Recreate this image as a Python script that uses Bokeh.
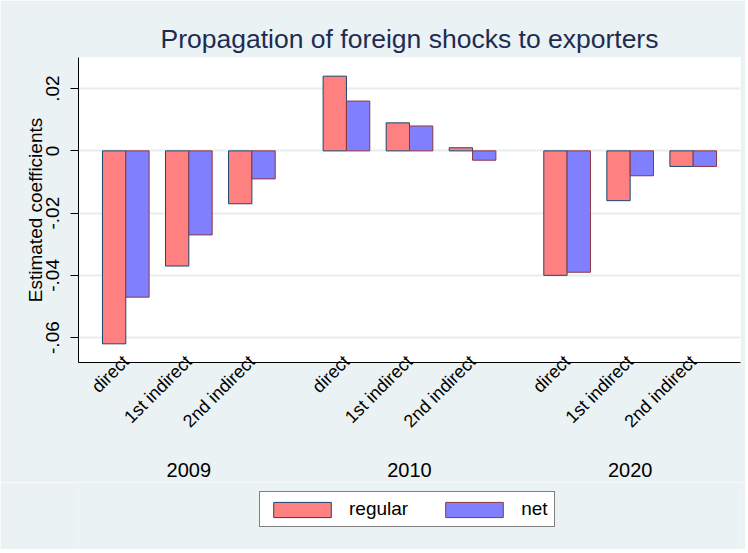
from math import pi
from bokeh.plotting import figure
from bokeh.layouts import column
from bokeh.models import (FactorRange, Range1d, FixedTicker, Legend, LegendItem,
                          ColumnDataSource, CategoricalAxis)
from bokeh.transform import dodge
from bokeh.embed import file_html
from bokeh.resources import INLINE

# ---- data ----
years = ["2009", "2010", "2020"]
shocks = ["direct", "1st indirect", "2nd indirect"]
regular = [-0.062, -0.037, -0.017, 0.024, 0.009, 0.001, -0.040, -0.016, -0.005]
net = [-0.047, -0.027, -0.009, 0.016, 0.008, -0.003, -0.039, -0.008, -0.005]
series_names = ["regular", "net"]
series_fill = ["#ff8080", "#8080ff"]
series_line = ["#1a476f", "#90353b"]
y_ticks = [-0.06, -0.04, -0.02, 0.0, 0.02]
y_tick_labels = ["-.06", "-.04", "-.02", "0", ".02"]

factors = [(y, s) for y in years for s in shocks]
source = ColumnDataSource(dict(x=factors, regular=regular, net=net))

FONT = "Liberation Sans"
BG = "#eaf2f3"

x_range = FactorRange(*factors, factor_padding=0, group_padding=0.5,
                      range_padding=0.25, range_padding_units="absolute")
p = figure(frame_width=662, frame_height=305, x_range=x_range, y_range=Range1d(-0.068, 0.030),
           output_backend="svg", toolbar_location=None,
           min_border_left=78, min_border_right=5, min_border_top=57, min_border_bottom=120)
p.background_fill_color = "white"
p.border_fill_color = BG
p.outline_line_color = None

# year axis on a range whose factor centres coincide with each group's middle bar pair
p.extra_x_ranges = {"years": FactorRange(*years, factor_padding=2.5,
                                         range_padding=1.25, range_padding_units="absolute")}

bw = 0.37
r1 = p.vbar(x=dodge("x", -bw / 2, range=p.x_range), top="regular", bottom=0, width=bw,
            source=source, fill_color=series_fill[0], line_color=series_line[0], line_width=1)
r2 = p.vbar(x=dodge("x", bw / 2, range=p.x_range), top="net", bottom=0, width=bw,
            source=source, fill_color=series_fill[1], line_color=series_line[1], line_width=1)

# title
p.title.text = "Propagation of foreign shocks to exporters"
p.title.align = "center"
p.title.text_font = FONT
p.title.text_font_size = "26.5px"
p.title.text_font_style = "normal"
p.title.text_color = "#1e2c52"
p.title.standoff = 7

# x axis (categories)
xa = p.xaxis[0]
xa.major_label_orientation = pi / 4
xa.major_tick_line_color = None
xa.minor_tick_line_color = None
xa.major_label_text_font = FONT
xa.major_label_text_font_size = "18px"
xa.major_label_text_color = "black"
xa.major_label_standoff = -10
xa.group_text_color = None
xa.separator_line_color = None
xa.axis_line_color = "black"
p.xgrid.grid_line_color = None

# year axis
year_axis = CategoricalAxis(x_range_name="years", axis_line_color=None,
                            major_tick_line_color=None, minor_tick_line_color=None,
                            major_label_text_font=FONT, major_label_text_font_size="20px",
                            major_label_text_color="black", major_label_standoff=15)
p.add_layout(year_axis, "below")

# y axis
ticker = FixedTicker(ticks=y_ticks)
ya = p.yaxis[0]
ya.ticker = ticker
ya.major_label_overrides = dict(zip(y_ticks, y_tick_labels))
ya.major_label_orientation = "vertical"
ya.major_tick_out = 8
ya.major_tick_in = 0
ya.minor_tick_line_color = None
ya.major_tick_line_color = "black"
ya.axis_line_color = "black"
ya.major_label_text_font = FONT
ya.major_label_text_font_size = "19px"
ya.major_label_text_color = "black"
ya.major_label_standoff = 11
ya.axis_label = "Estimated coefficients"
ya.axis_label_text_font = FONT
ya.axis_label_text_font_size = "19px"
ya.axis_label_text_font_style = "normal"
ya.axis_label_text_color = "black"
ya.axis_label_standoff = -2
p.ygrid.ticker = ticker
p.ygrid.grid_line_color = "#e6eef0"
p.ygrid.grid_line_width = 2

# legend strip below the chart (same background); its swatch renderers sit outside the view
lf = figure(width=745, height=67, x_range=Range1d(0, 1), y_range=Range1d(0, 1),
            output_backend="svg", toolbar_location=None, min_border=0)
lf.background_fill_color = BG
lf.border_fill_color = BG
lf.outline_line_color = None
lf.axis.visible = False
lf.grid.visible = False
swatch = ColumnDataSource(dict(x=[-10], top=[0]))
lr1 = lf.vbar(x="x", top="top", width=0.1, source=swatch,
              fill_color=series_fill[0], line_color=series_line[0])
lr2 = lf.vbar(x="x", top="top", width=0.1, source=swatch,
              fill_color=series_fill[1], line_color=series_line[1])
legend = Legend(items=[LegendItem(label=series_names[0], renderers=[lr1]),
                       LegendItem(label=series_names[1], renderers=[lr2])],
                location=(181, 22), orientation="horizontal",
                glyph_width=72, glyph_height=19, label_standoff=11, spacing=30,
                padding=6, margin=0, border_line_color="black", border_line_width=1,
                background_fill_color="white", background_fill_alpha=1.0,
                label_text_font=FONT, label_text_font_size="19px", label_text_color="black")
lf.add_layout(legend, "center")

layout = column(p, lf, spacing=0)
open("out.html", "w").write(file_html(layout, INLINE))
